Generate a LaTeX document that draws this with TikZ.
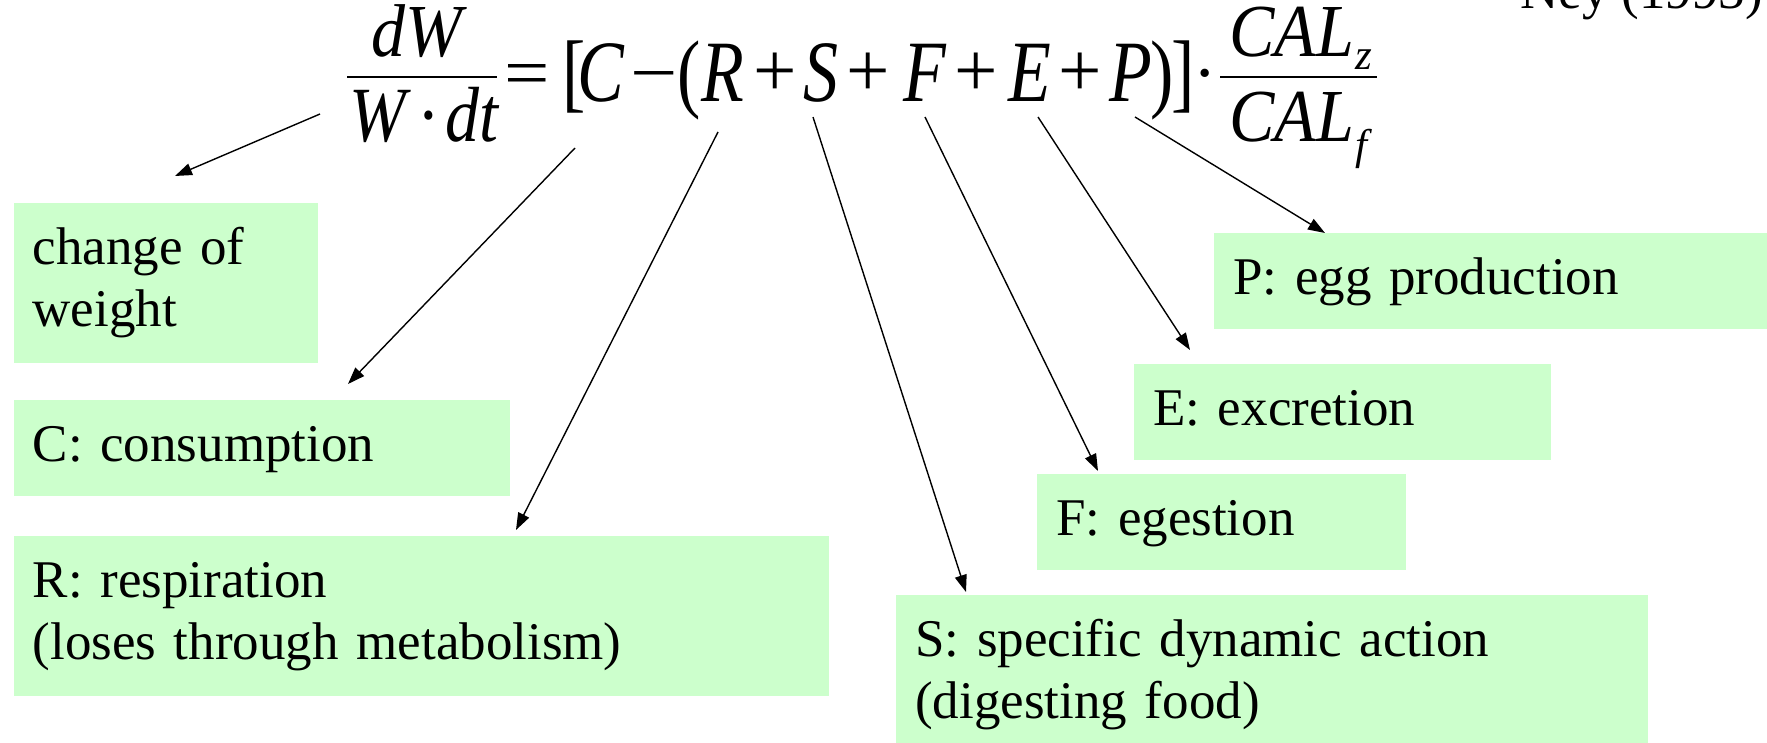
\documentclass[tikz,border=0pt]{standalone}
\usepackage{fontspec}
\setmainfont{Liberation Serif}
\usetikzlibrary{arrows.meta}

\definecolor{boxgreen}{HTML}{CCFFCC}

% the equation of the slide is set taller than wide
\newcommand{\eqtall}[2][1.25]{\scalebox{1}[#1]{#2}}
\newcommand{\eqsub}[2]{\raisebox{#1}{\fontsize{43}{43}\selectfont\textit{#2}}}
\newcommand{\eqplus}{\scalebox{1.1}{+}}

\tikzset{
  greenbox/.style={fill=boxgreen, anchor=north west, align=left,
    inner xsep=19pt, inner ysep=0pt, text height=61pt, text depth=35pt,
    font=\fontsize{53}{62}\selectfont},
  tallbox/.style={greenbox, text depth=99pt},
  eqsym/.style={anchor=base, inner sep=0pt, font=\fontsize{70}{80}\selectfont},
  eqfrac/.style={anchor=base west, inner sep=0pt, font=\fontsize{68}{78}\selectfont},
  pointer/.style={-{Triangle[length=17pt,width=12pt]}, line width=1.4pt},
}

\begin{document}
\begin{tikzpicture}[x=1pt, y=-1pt]

  % fix the canvas to the reference size
  \useasboundingbox (0,0) rectangle (1767,743);

  %% ---- source in the corner (cut off at the top) ----
  \node[anchor=base west, inner sep=0pt, font=\fontsize{53}{62}\selectfont] (ney) at (1520,9) {Ney (1993)};

  %% ---- the growth equation ----
  \node[eqfrac, anchor=base] (eqdW) at (419,57) {\eqtall[1.1]{\textit{dW}}};
  \node[eqfrac] (eqWdt) at (349,142) {\eqtall[1.15]{\textit{W}\hspace{7pt}·\hspace{5pt}\textit{dt}}};
  \draw[line width=2.5pt] (347,77) -- (497,77);
  \node[eqsym] (eqeq) at (527,97) {\scalebox{1.15}[1]{=}};
  \node[eqsym] (eqlb) at (574,102) {\eqtall{[}};
  \node[eqsym] (eqC) at (601,102) {\eqtall{\textit{C}}};
  \node[eqsym] (eqminus) at (654,97) {\scalebox{1.2}[1]{−}};
  \node[eqsym] (eqlp) at (689,102) {\eqtall{(}};
  \node[eqsym] (eqR) at (723,102) {\eqtall{\textit{R}}};
  \node[eqsym] (eqplusA) at (775,97) {\eqplus};
  \node[eqsym] (eqS) at (821,102) {\eqtall{\textit{S}}};
  \node[eqsym] (eqplusB) at (868,97) {\eqplus};
  \node[eqsym] (eqF) at (925,102) {\eqtall{\textit{F}}};
  \node[eqsym] (eqplusC) at (976,97) {\eqplus};
  \node[eqsym] (eqE) at (1030,102) {\eqtall{\textit{E}}};
  \node[eqsym] (eqplusD) at (1080,97) {\eqplus};
  \node[eqsym] (eqP) at (1131,102) {\eqtall{\textit{P}}};
  \node[eqsym] (eqrp) at (1162,102) {\eqtall{)}};
  \node[eqsym] (eqrb) at (1183,102) {\eqtall{]}};
  \node[eqsym] (eqdot) at (1205,97) {·};
  \node[eqfrac] (eqCALz) at (1229,57) {\eqtall[1.1]{\textit{CAL}}\hspace{2pt}\eqsub{-13pt}{z}};
  \draw[line width=2.5pt] (1220,77) -- (1377,77);
  \node[eqfrac] (eqCALf) at (1229,142) {\eqtall[1.1]{\textit{CAL}}\hspace{2pt}\eqsub{-18pt}{f}};

  %% ---- green explanation boxes ----
  \node[tallbox, text width=266.5pt] (weightbox) at (13.5,203) {change of\\weight};
  \node[greenbox, text width=458.5pt] (consbox) at (13.5,400) {C: consumption};
  \node[tallbox, text width=777.5pt] (respbox) at (13.5,536) {R: respiration\\(loses through metabolism)};
  \node[tallbox, text width=714pt] (sdabox) at (896,595) {S: specific dynamic action\\(digesting food)};
  \node[greenbox, text width=331pt] (egesbox) at (1037,474) {F: egestion};
  \node[greenbox, text width=379pt] (excrbox) at (1134,364) {E: excretion};
  \node[greenbox, text width=560pt] (eggbox) at (1214,233) {P: egg production};

  %% ---- arrow ends: tails under the terms, tips above the boxes ----
  \coordinate (tailW) at (320,114);   \coordinate (tipW) at (175,176);
  \coordinate (tailC) at (575,148);   \coordinate (tipC) at (348,384);
  \coordinate (tailR) at (718,132);   \coordinate (tipR) at (516,530);
  \coordinate (tailS) at (813,117);   \coordinate (tipS) at (966,592);
  \coordinate (tailF) at (925,117);   \coordinate (tipF) at (1098,471);
  \coordinate (tailE) at (1038,117);  \coordinate (tipE) at (1190,350);
  \coordinate (tailP) at (1135,117);  \coordinate (tipP) at (1325,233);

  \draw[pointer] (tailW) -- (tipW);
  \draw[pointer] (tailC) -- (tipC);
  \draw[pointer] (tailR) -- (tipR);
  \draw[pointer] (tailS) -- (tipS);
  \draw[pointer] (tailF) -- (tipF);
  \draw[pointer] (tailE) -- (tipE);
  \draw[pointer] (tailP) -- (tipP);
\end{tikzpicture}
\end{document}
